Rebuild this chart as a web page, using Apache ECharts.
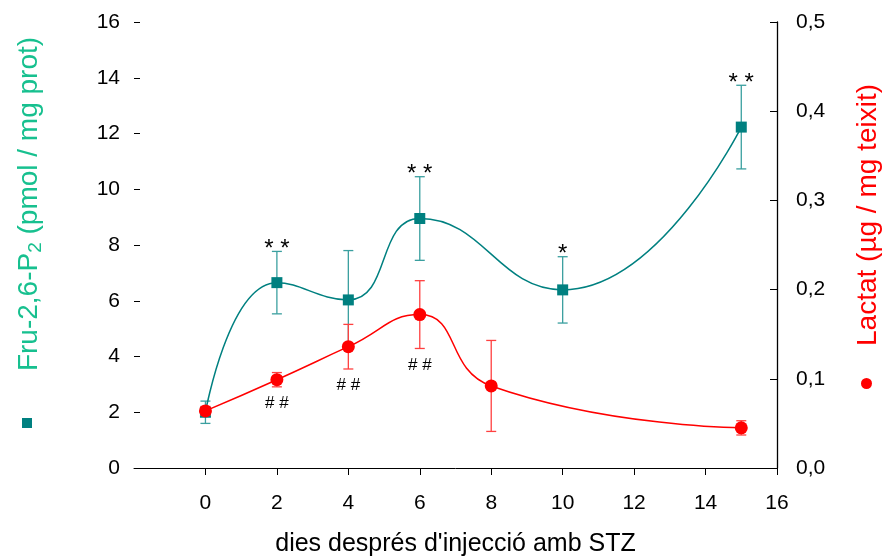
<!DOCTYPE html>
<html>
<head>
<meta charset="utf-8">
<script src="https://cdn.jsdelivr.net/npm/echarts@6/dist/echarts.min.js"></script>
<style>
  html, body { margin: 0; padding: 0; background: #fff; }
  #chart { width: 885px; height: 558px; }
</style>
</head>
<body>
<div id="chart"></div>
<script>
// Fru-2,6-P2 (left axis) and lactate (right axis) after STZ injection
const fruDays = [0, 2, 4, 6, 10, 15];
const fruMean = [2.0, 6.65, 6.03, 8.95, 6.39, 12.23];
const fruErr  = [0.4, 1.12, 1.77, 1.5, 1.19, 1.5];
const fruSig  = ['', '* *', '', '* *', '*', '* *'];

const lacDays = [0, 2, 4, 6, 8, 15];
const lacMean = [0.064, 0.099, 0.136, 0.172, 0.092, 0.045];
const lacErr  = [0.005, 0.008, 0.025, 0.038, 0.051, 0.008];
const lacSig  = ['', '# #', '# #', '# #', '', ''];

const xTicks = [0, 2, 4, 6, 8, 10, 12, 14, 16];

const TEAL = '#008080';
const TEAL_BAR = '#3a9f9f';
const TEAL_TEXT = '#17c08f';
const RED = '#ff0000';
const RED_BAR = '#ff4040';
const FONT = '"Liberation Sans", Arial, sans-serif';

const chart = echarts.init(document.getElementById('chart'));

// error bar with caps, plus a significance mark above (up) or below (down)
function errorBars(color, marks, side) {
  return function (params, api) {
    const x = api.value(0);
    const hi = api.coord([x, api.value(2)]);
    const lo = api.coord([x, api.value(1)]);
    const cap = 5;
    const style = { stroke: color, lineWidth: 1.3 };
    const children = [
      { type: 'line', shape: { x1: hi[0], y1: hi[1], x2: lo[0], y2: lo[1] }, style },
      { type: 'line', shape: { x1: hi[0] - cap, y1: hi[1], x2: hi[0] + cap, y2: hi[1] }, style },
      { type: 'line', shape: { x1: lo[0] - cap, y1: lo[1], x2: lo[0] + cap, y2: lo[1] }, style }
    ];
    const mark = marks[params.dataIndex];
    if (mark) {
      children.push({
        type: 'text',
        style: side === 'up'
          ? { text: mark, x: hi[0], y: hi[1] + 10, align: 'center', verticalAlign: 'bottom',
              fill: '#000', font: '24px ' + FONT }
          : { text: mark, x: lo[0], y: lo[1] + 8, align: 'center', verticalAlign: 'top',
              fill: '#000', font: '17px ' + FONT }
      });
    }
    return { type: 'group', children };
  };
}

const fruLine = fruDays.map((d, i) => [d, fruMean[i]]);
const fruBars = fruDays.map((d, i) => [d, fruMean[i] - fruErr[i], fruMean[i] + fruErr[i]]);
const lacLine = lacDays.map((d, i) => [d, lacMean[i]]);
const lacBars = lacDays.map((d, i) => [d, lacMean[i] - lacErr[i], lacMean[i] + lacErr[i]]);

chart.setOption({
  animation: false,
  backgroundColor: '#fff',
  textStyle: { fontFamily: FONT },
  grid: { left: 134, right: 108, top: 22, bottom: 90, containLabel: false, outerBoundsMode: 'none' },
  legend: [
    { data: [{ name: 'Fru-2,6-P2', icon: 'rect' }], left: 17, top: 413, itemWidth: 10, itemHeight: 10,
      textStyle: { fontSize: 0 }, selectedMode: false },
    { data: [{ name: 'Lactat', icon: 'circle' }], left: 856, top: 373, itemWidth: 11, itemHeight: 11,
      textStyle: { fontSize: 0 }, selectedMode: false }
  ],
  xAxis: {
    type: 'value', min: -2, max: 16, interval: 2,
    name: "dies després d'injecció amb STZ",
    nameLocation: 'middle', nameGap: 64,
    nameTextStyle: { fontSize: 25, color: '#000', fontFamily: FONT },
    axisLine: { show: true, onZero: false, lineStyle: { color: '#000', width: 1 } },
    axisTick: { show: true, inside: false, length: 7, customValues: xTicks, lineStyle: { color: '#000' } },
    axisLabel: { customValues: xTicks, fontSize: 21, color: '#000', margin: 25, fontFamily: FONT },
    splitLine: { show: false }
  },
  yAxis: [
    {
      type: 'value', min: 0, max: 16, interval: 2, position: 'left',
      name: '{n|Fru-2,6-P}{s|2}{n| (pmol / mg prot)}',
      nameLocation: 'middle', nameRotate: 90, nameGap: 89,
      nameTextStyle: {
        padding: [0, 0, 0, 82],
        rich: {
          n: { fontSize: 28, color: TEAL_TEXT, fontFamily: FONT, lineHeight: 32 },
          s: { fontSize: 19, color: TEAL_TEXT, fontFamily: FONT, lineHeight: 19, verticalAlign: 'bottom' }
        }
      },
      axisLine: { show: false, onZero: false },
      axisTick: { show: true, inside: true, length: 6, lineStyle: { color: '#000' } },
      axisLabel: { fontSize: 21, color: '#000', margin: 14, fontFamily: FONT },
      splitLine: { show: false }
    },
    {
      type: 'value', min: 0, max: 0.5, interval: 0.1, position: 'right',
      name: 'Lactat (µg / mg teixit)',
      nameLocation: 'middle', nameRotate: 90, nameGap: 77,
      nameTextStyle: { fontSize: 28, color: RED, fontFamily: FONT, padding: [0, 0, 0, 60] },
      axisLine: { show: true, onZero: false, lineStyle: { color: '#000', width: 1.3 } },
      axisTick: { show: true, inside: true, length: 7, lineStyle: { color: '#000' } },
      axisLabel: {
        fontSize: 21, color: '#000', margin: 19, fontFamily: FONT,
        formatter: v => v.toFixed(1).replace('.', ',')
      },
      splitLine: { show: false }
    }
  ],
  series: [
    {
      type: 'custom', name: 'fruErr', yAxisIndex: 0, z: 2,
      renderItem: errorBars(TEAL_BAR, fruSig, 'up'),
      encode: { x: 0, y: [1, 2] }, data: fruBars, silent: true
    },
    {
      type: 'line', name: 'Fru-2,6-P2', yAxisIndex: 0, z: 3,
      data: fruLine, smooth: 0.5,
      symbol: 'rect', symbolSize: 11,
      lineStyle: { color: TEAL, width: 1.5 },
      itemStyle: { color: TEAL }
    },
    {
      type: 'custom', name: 'lacErr', yAxisIndex: 1, z: 4,
      renderItem: errorBars(RED_BAR, lacSig, 'down'),
      encode: { x: 0, y: [1, 2] }, data: lacBars, silent: true
    },
    {
      type: 'line', name: 'Lactat', yAxisIndex: 1, z: 5,
      data: lacLine, smooth: 0.5,
      symbol: 'circle', symbolSize: 13,
      lineStyle: { color: RED, width: 1.5 },
      itemStyle: { color: RED }
    }
  ]
});
</script>
</body>
</html>
